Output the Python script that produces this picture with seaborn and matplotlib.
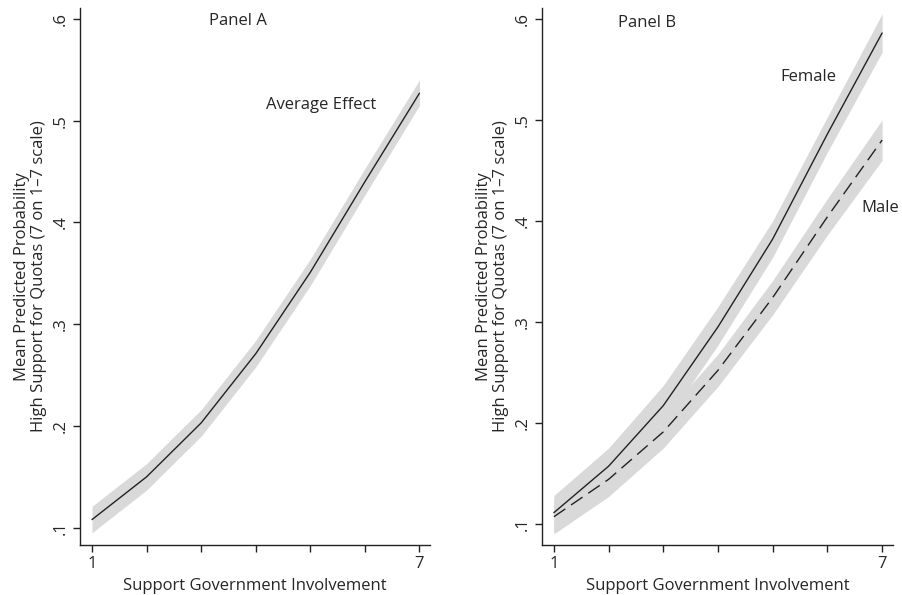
import matplotlib
matplotlib.use("Agg")
import matplotlib.pyplot as plt
import seaborn as sns
import pandas as pd

# nilai
skala = [1, 2, 3, 4, 5, 6, 7]

rata_mean = [0.108, 0.150, 0.203, 0.271, 0.351, 0.440, 0.527]
rata_lo = [0.095, 0.137, 0.190, 0.258, 0.338, 0.427, 0.515]
rata_hi = [0.121, 0.163, 0.216, 0.284, 0.364, 0.453, 0.540]

fem_mean = [0.111, 0.157, 0.217, 0.295, 0.382, 0.486, 0.586]
fem_lo = [0.092, 0.140, 0.198, 0.277, 0.364, 0.468, 0.567]
fem_hi = [0.128, 0.175, 0.237, 0.315, 0.400, 0.503, 0.605]

male_mean = [0.107, 0.144, 0.191, 0.252, 0.324, 0.404, 0.480]
male_lo = [0.090, 0.127, 0.175, 0.236, 0.307, 0.386, 0.460]
male_hi = [0.125, 0.160, 0.207, 0.268, 0.341, 0.422, 0.500]

y_ticks = [0.1, 0.2, 0.3, 0.4, 0.5, 0.6]
y_labels = [".1", ".2", ".3", ".4", ".5", ".6"]

sns.set_theme(style="white")
plt.rcParams['font.family'] = ['Open Sans', 'DejaVu Sans']

fig = plt.figure(figsize=(9.03, 5.95), dpi=100)
ax1 = fig.add_axes([0.0886, 0.084, 0.388, 0.903])
ax2 = fig.add_axes([0.600, 0.084, 0.389, 0.903])

warna_garis = "#222222"
warna_band = "#d9d9d9"

df_a = pd.DataFrame({'x': skala, 'y': rata_mean})
ax1.fill_between(skala, rata_lo, rata_hi, color=warna_band, lw=0)
sns.lineplot(data=df_a, x='x', y='y', ax=ax1, color=warna_garis, lw=1)

df_f = pd.DataFrame({'x': skala, 'y': fem_mean})
df_m = pd.DataFrame({'x': skala, 'y': male_mean})
ax2.fill_between(skala, male_lo, male_hi, color=warna_band, lw=0)
ax2.fill_between(skala, fem_lo, fem_hi, color=warna_band, lw=0)
sns.lineplot(data=df_f, x='x', y='y', ax=ax2, color=warna_garis, lw=1)
sns.lineplot(data=df_m, x='x', y='y', ax=ax2, color=warna_garis, lw=1,
             dashes=False, linestyle=(0, (10, 5)))

for ax, ylo in [(ax1, 0.083), (ax2, 0.079)]:
    ax.set_xlim(0.78, 7.2)
    ax.set_ylim(ylo, 0.611)
    ax.set_xticks(skala)
    ax.set_xticklabels(["1", "", "", "", "", "", "7"], fontsize=12)
    ax.set_yticks(y_ticks)
    ax.set_yticklabels(y_labels, fontsize=12, rotation=90, va='center')
    ax.tick_params(axis='both', direction='out', length=5, width=1,
                   color=warna_garis, left=True, bottom=True, pad=3)
    for s in ['top', 'right']:
        ax.spines[s].set_visible(False)
    for s in ['left', 'bottom']:
        ax.spines[s].set_color(warna_garis)
        ax.spines[s].set_linewidth(1)
    ax.set_xlabel("Support Government Involvement", fontsize=12)
    ax.set_ylabel("Mean Predicted Probability\nHigh Support for Quotas (7 on 1\u20137 scale)",
                  fontsize=12, linespacing=1.1)

ax1.text(3.67, 0.598, "Panel A", fontsize=12, ha='center', va='center')
ax1.text(5.2, 0.515, "Average Effect", fontsize=12, ha='center', va='center')
ax2.text(2.7, 0.596, "Panel B", fontsize=12, ha='center', va='center')
ax2.text(5.65, 0.542, "Female", fontsize=12, ha='center', va='center')
ax2.text(6.97, 0.413, "Male", fontsize=12, ha='center', va='center')

fig.savefig("out.png", dpi=100)
